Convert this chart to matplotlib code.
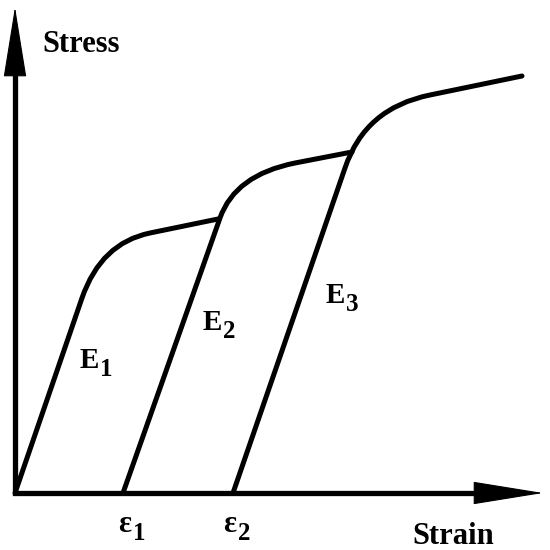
import matplotlib
matplotlib.use('Agg')
import matplotlib.pyplot as plt
from matplotlib.path import Path
from matplotlib.patches import PathPatch, FancyArrowPatch
from matplotlib.transforms import offset_copy

# schematic stress-strain data (arbitrary units)
# each curve: start on strain axis, end of linear part, knee control, end of knee, end point
curve1_strain = [0.00, 0.67, 0.86, 1.35, 2.03]
curve1_stress = [0.00, 1.95, 2.50, 2.60, 2.74]
curve2_strain = [1.08, 2.05, 2.20, 2.80, 3.37]
curve2_stress = [0.00, 2.75, 3.18, 3.30, 3.41]
curve3_strain = [2.18, 3.30, 3.50, 4.15, 5.07]
curve3_stress = [0.00, 3.25, 3.85, 3.98, 4.17]

strain_max = 5.28
stress_max = 4.86

fig = plt.figure(figsize=(5.5, 5.5), dpi=100)
ax = fig.add_axes([0, 0, 1, 1])
ax.set_xlim(-0.15, 5.35)
ax.set_ylim(-0.57, 4.93)
ax.axis('off')

codes = [Path.MOVETO, Path.LINETO, Path.CURVE3, Path.CURVE3, Path.LINETO]
for xs, ys in [(curve1_strain, curve1_stress),
               (curve2_strain, curve2_stress),
               (curve3_strain, curve3_stress)]:
    path = Path(list(zip(xs, ys)), codes)
    ax.add_patch(PathPatch(path, facecolor='none', edgecolor='black',
                           lw=3.6, capstyle='round', joinstyle='round'))

# axes lines, then the arrow heads on top
ax.plot([0, 0, strain_max - 0.3], [stress_max - 0.3, 0, 0], color='black',
        lw=3.8, solid_joinstyle='miter', solid_capstyle='projecting')
for base, tip in [((0, stress_max - 1.0), (0, stress_max)),
                  ((strain_max - 1.0, 0), (strain_max, 0))]:
    arr = FancyArrowPatch(base, tip,
                          arrowstyle='-|>,head_length=47,head_width=7.6',
                          mutation_scale=1, lw=0.8, color='black',
                          shrinkA=0, shrinkB=0)
    ax.add_patch(arr)

serif = 'Liberation Serif'
ax.text(0.27, 4.48, 'Stress', fontsize=22, fontweight='bold', family=serif,
        ha='left', va='center')
ax.text(3.97, -0.44, 'Strain', fontsize=22, fontweight='bold', family=serif,
        ha='left', va='center')


def label(x, y, main, sub, dx, size):
    ax.text(x, y, main, fontsize=size, fontweight='bold', family=serif,
            ha='left', va='baseline')
    tr = offset_copy(ax.transData, fig=fig, x=dx, y=-5.5, units='points')
    ax.text(x, y, sub, fontsize=18, fontweight='bold', family=serif,
            ha='left', va='baseline', transform=tr)


label(0.65, 1.25, 'E', '1', 14.5, 21)
label(1.88, 1.63, 'E', '2', 14.5, 21)
label(3.11, 1.90, 'E', '3', 14.5, 21)
label(1.03, -0.39, '\u03b5', '1', 10.5, 22)
label(2.08, -0.39, '\u03b5', '2', 10.5, 22)

fig.savefig('out.png', dpi=100)
